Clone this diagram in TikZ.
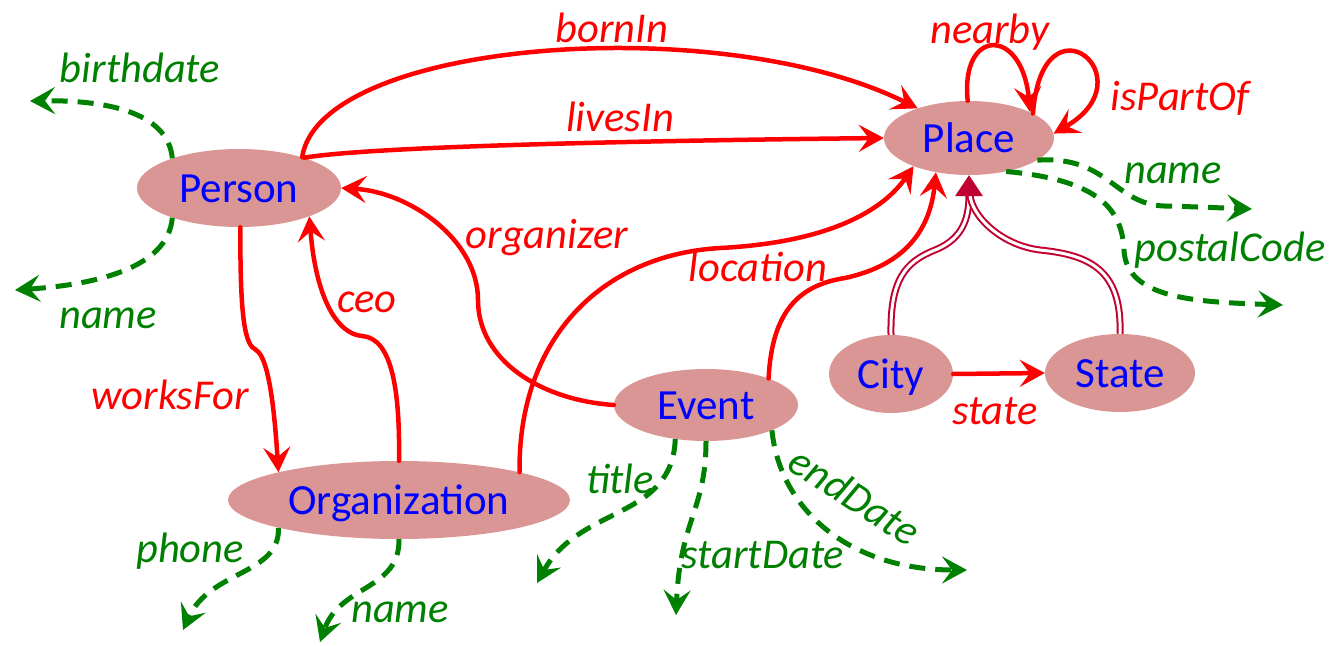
\documentclass[tikz,border=0pt]{standalone}
\usepackage{fontspec}
\setmainfont{Carlito}
\usetikzlibrary{arrows.meta,shapes.geometric}
\definecolor{nodefill}{HTML}{D99694}
\definecolor{relred}{HTML}{FF0000}
\definecolor{attrgreen}{HTML}{008000}
\definecolor{subcol}{HTML}{C0002F}
\begin{document}
\begin{tikzpicture}[x=1pt,y=-1pt,
  cls/.style={ellipse, fill=nodefill, text=blue, inner sep=0pt,
    text height=28pt, text depth=0pt, font=\fontsize{43}{50}\selectfont},
  rel/.style={draw=relred, line width=4.5pt, line cap=round,
    -{Stealth[length=25pt,width=27pt,inset=10pt]}},
  attr/.style={draw=attrgreen, line width=5pt, dash pattern=on 16pt off 10pt,
    -{Stealth[length=25pt,width=27pt,inset=10pt]}},
  rlbl/.style={text=relred, inner sep=0pt, font=\itshape\fontsize{42.5}{50}\selectfont},
  albl/.style={text=attrgreen, inner sep=0pt, font=\itshape\fontsize{42.5}{50}\selectfont},
  subline/.style={draw=subcol, line width=2pt, double=white, double distance=3pt, shorten >=19pt}
]
\useasboundingbox (0,0) rectangle (1335,645);

% classes
\node[cls, minimum width=204pt, minimum height=78pt] (person) at (239,188) {Person};
\node[cls, minimum width=170pt, minimum height=74pt] (place) at (969,138) {Place};
\node[cls, minimum width=124pt, minimum height=78pt] (city) at (891,374) {City};
\node[cls, minimum width=150pt, minimum height=78pt] (state) at (1120,373) {State};
\node[cls, minimum width=184pt, minimum height=72pt] (event) at (706,405) {Event};
\node[cls, minimum width=342pt, minimum height=78pt] (org) at (399,500) {Organization};

% free ends of attributes
\coordinate (pbirth) at (30,101);
\coordinate (pname) at (15,290);
\coordinate (plname) at (1252,209);
\coordinate (plpostal) at (1283,305);
\coordinate (ophone) at (183,630);
\coordinate (oname) at (320,642);
\coordinate (etitle) at (537,583);
\coordinate (estart) at (676,615);
\coordinate (eend) at (967,570);

% relations
\draw[rel] (person.26) .. controls (320,40) and (720,10) .. (place.150);
\draw[rel] (person.25) .. controls (380,145) and (700,140) .. (place.west);
\draw[rel] (place.92) .. controls (960,28) and (1022,26) .. (place.23);
\draw[rel] (place.21) .. controls (1042,-10) and (1150,78) .. (place.3);
\draw[rel] (event.west) .. controls (540,400) and (478,360) .. (478,300)
  .. controls (478,240) and (410,192) .. (person.east);
\draw[rel] (org.13) .. controls (518,340) and (600,255) .. (720,248)
  .. controls (820,243) and (880,215) .. (place.207);
\draw[rel] (event.23) .. controls (772,310) and (800,285) .. (845,278)
  .. controls (905,265) and (930,230) .. (place.226);
\draw[rel] (org.north) .. controls (400,390) and (392,338) .. (362,336)
  .. controls (338,334) and (316,300) .. (person.-22);
\draw[rel] (person.-88) .. controls (240,320) and (245,345) .. (256,350)
  .. controls (270,358) and (275,420) .. (org.167);
\draw[rel] (city.east) -- (state.west);

% subclass
\draw[subline] (city.north) .. controls (890,280) and (905,262) .. (935,250)
  .. controls (965,238) and (969,215) .. (place.south);
\draw[subline] (state.north) .. controls (1122,270) and (1090,255) .. (1040,250)
  .. controls (1000,245) and (971,215) .. (place.south);
\fill[subcol] (place.south) -- ++(-14,21) -- ++(28,0) -- cycle;

% attributes
\draw[attr] (person.156) .. controls (168,110) and (100,100) .. (pbirth);
\draw[attr] (person.204) .. controls (168,270) and (90,285) .. (pname);
\draw[attr] (place.-18) .. controls (1110,155) and (1115,208) .. (1170,206) -- (plname);
\draw[attr] (place.-42) .. controls (1100,180) and (1122,210) .. (1124,250)
  .. controls (1126,300) and (1200,302) .. (plpostal);
\draw[attr] (org.193) .. controls (280,575) and (210,570) .. (ophone);
\draw[attr] (org.south) .. controls (400,590) and (340,585) .. (oname);
\draw[attr] (event.228) .. controls (672,520) and (580,505) .. (etitle);
\draw[attr] (event.south) .. controls (706,510) and (680,520) .. (estart);
\draw[attr] (event.-21) .. controls (780,510) and (850,570) .. (eend);

% labels
\node[rlbl] (lborn) at (612,28) {bornIn};
\node[rlbl] (llives) at (620,117) {livesIn};
\node[rlbl] (lnear) at (990,32) {nearby};
\node[rlbl] (lpart) at (1180,98) {isPartOf};
\node[rlbl] (lorg) at (547,238) {organizer};
\node[rlbl] (lloc) at (758,267) {location};
\node[rlbl] (lceo) at (367,302) {ceo};
\node[rlbl] (lworks) at (170,395) {worksFor};
\node[rlbl] (lstate) at (995,411) {state};
\node[albl] (lbirth) at (140,68) {birthdate};
\node[albl] (lpname) at (108,318) {name};
\node[albl] (lplname) at (1173,173) {name};
\node[albl] (lpostal) at (1230,250) {postalCode};
\node[albl] (lphone) at (190,551) {phone};
\node[albl] (loname) at (400,612) {name};
\node[albl] (ltitle) at (620,479) {title};
\node[albl] (lstart) at (763,555) {startDate};
\node[albl, rotate=-33] (lend) at (855,496) {endDate};
\end{tikzpicture}
\end{document}
